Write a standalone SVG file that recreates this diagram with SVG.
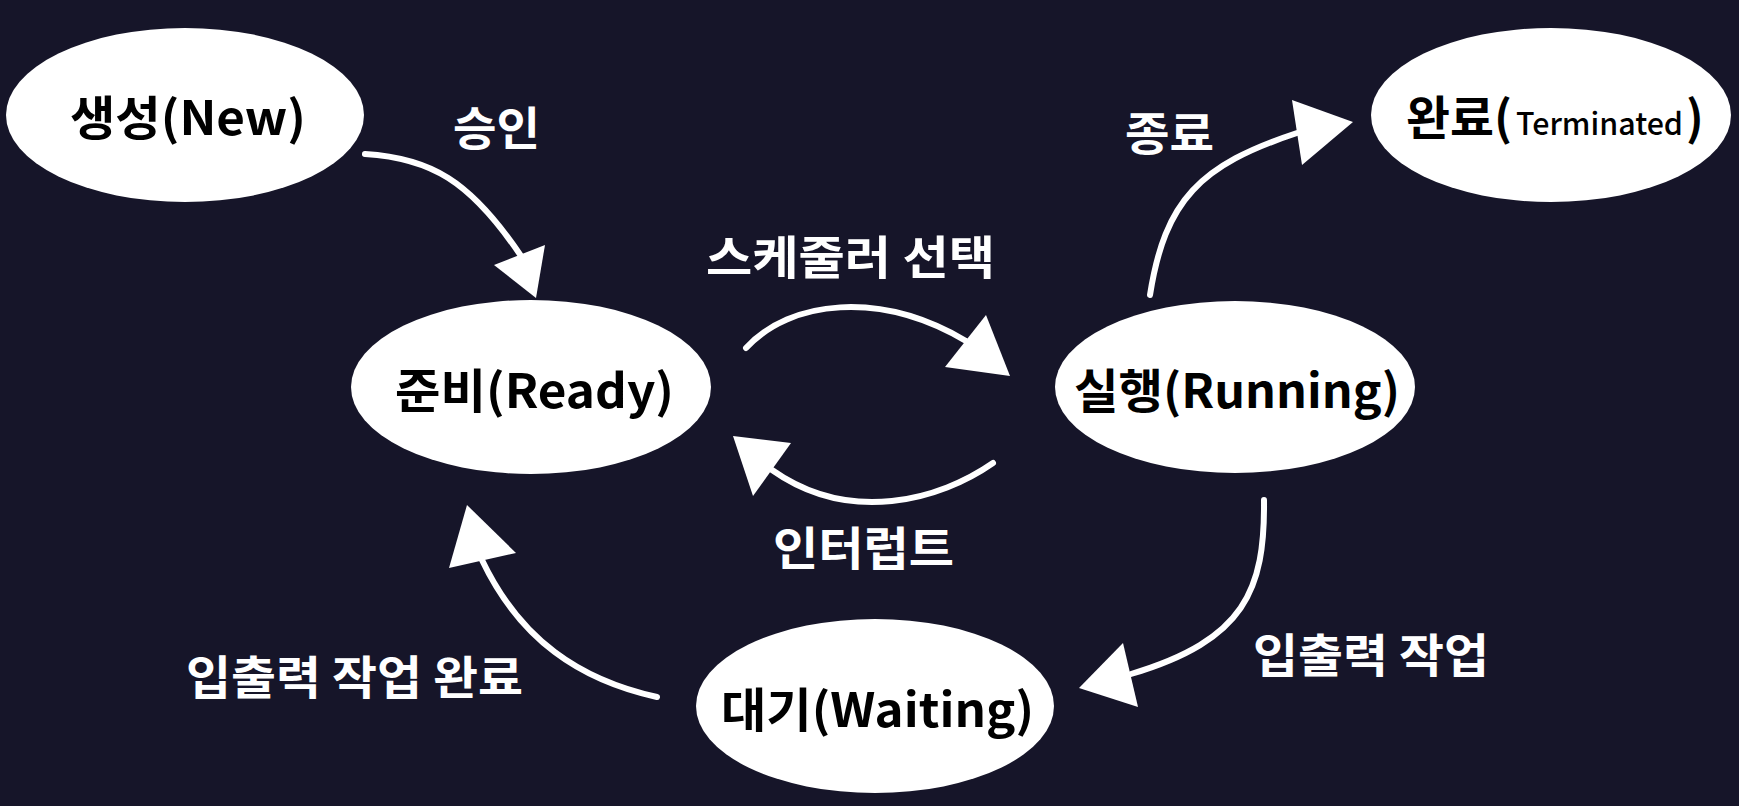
<svg xmlns="http://www.w3.org/2000/svg" width="1739" height="806" viewBox="0 0 1739 806">
<style>
.bg{fill:#161529}
.node{fill:#ffffff}
.nt{font-family:"Noto Sans CJK KR","Noto Sans",sans-serif;font-weight:700;font-size:47px;fill:#000000}
.nts{font-family:"Noto Sans CJK KR","Noto Sans",sans-serif;font-weight:500;font-size:31px;fill:#000000}
.lb{font-family:"Noto Sans CJK KR","Noto Sans",sans-serif;font-weight:700;font-size:46px;fill:#ffffff}
.edge{fill:none;stroke:#ffffff;stroke-width:6;stroke-linecap:round}
.head{fill:#ffffff}
</style>
<rect class="bg" x="0" y="0" width="1739" height="806"/>
<g id="connectors">
  <g id="e-new-ready">
    <path class="edge" d="M365,154 C430,158 470,180 521,256"/>
    <polygon class="head" points="536,298 494,265 545,245"/>
    <text class="lb" x="453" y="145" textLength="87" lengthAdjust="spacingAndGlyphs">승인</text>
  </g>
  <g id="e-ready-running">
    <path class="edge" d="M746,348 C790,300 880,290 966,341"/>
    <polygon class="head" points="1010,376 986,315 945,367"/>
    <text class="lb" x="706" y="274" textLength="289" lengthAdjust="spacingAndGlyphs">스케줄러 선택</text>
  </g>
  <g id="e-running-ready">
    <path class="edge" d="M993,463 C940,500 850,525 772,470"/>
    <polygon class="head" points="733,436 791,443 753,496"/>
    <text class="lb" x="773" y="565" textLength="181" lengthAdjust="spacingAndGlyphs">인터럽트</text>
  </g>
  <g id="e-running-terminated">
    <path class="edge" d="M1150,295 C1165,200 1200,165 1297,133"/>
    <polygon class="head" points="1353,122 1292,100 1302,165"/>
    <text class="lb" x="1125" y="150" textLength="89" lengthAdjust="spacingAndGlyphs">종료</text>
  </g>
  <g id="e-running-waiting">
    <path class="edge" d="M1264,500 C1265,590 1245,640 1131,674"/>
    <polygon class="head" points="1079,688 1123,643 1138,707"/>
    <text class="lb" x="1253" y="672" textLength="236" lengthAdjust="spacingAndGlyphs">입출력 작업</text>
  </g>
  <g id="e-waiting-ready">
    <path class="edge" d="M657,697 C580,680 520,640 482,560"/>
    <polygon class="head" points="467,505 449,568 516,553"/>
    <text class="lb" x="186" y="694" textLength="337" lengthAdjust="spacingAndGlyphs">입출력 작업 완료</text>
  </g>
</g>
<g id="node-new">
  <ellipse class="node" cx="185" cy="115" rx="179" ry="87"/>
  <text class="nt" x="70" y="135" textLength="236" lengthAdjust="spacingAndGlyphs">생성(New)</text>
</g>
<g id="node-terminated">
  <ellipse class="node" cx="1551" cy="115" rx="180" ry="87"/>
  <text class="nt" x="1406" y="135" textLength="106" lengthAdjust="spacingAndGlyphs">완료(</text>
  <text class="nts" x="1516" y="135" textLength="167" lengthAdjust="spacingAndGlyphs">Terminated</text>
  <text class="nt" x="1686" y="135">)</text>
</g>
<g id="node-ready">
  <ellipse class="node" cx="531" cy="387" rx="180" ry="87"/>
  <text class="nt" x="395" y="408" textLength="279" lengthAdjust="spacingAndGlyphs">준비(Ready)</text>
</g>
<g id="node-running">
  <ellipse class="node" cx="1235" cy="387" rx="180" ry="86"/>
  <text class="nt" x="1074" y="408" textLength="326" lengthAdjust="spacingAndGlyphs">실행(Running)</text>
</g>
<g id="node-waiting">
  <ellipse class="node" cx="875" cy="706" rx="179" ry="87"/>
  <text class="nt" x="721" y="727" textLength="313" lengthAdjust="spacingAndGlyphs">대기(Waiting)</text>
</g>
</svg>
